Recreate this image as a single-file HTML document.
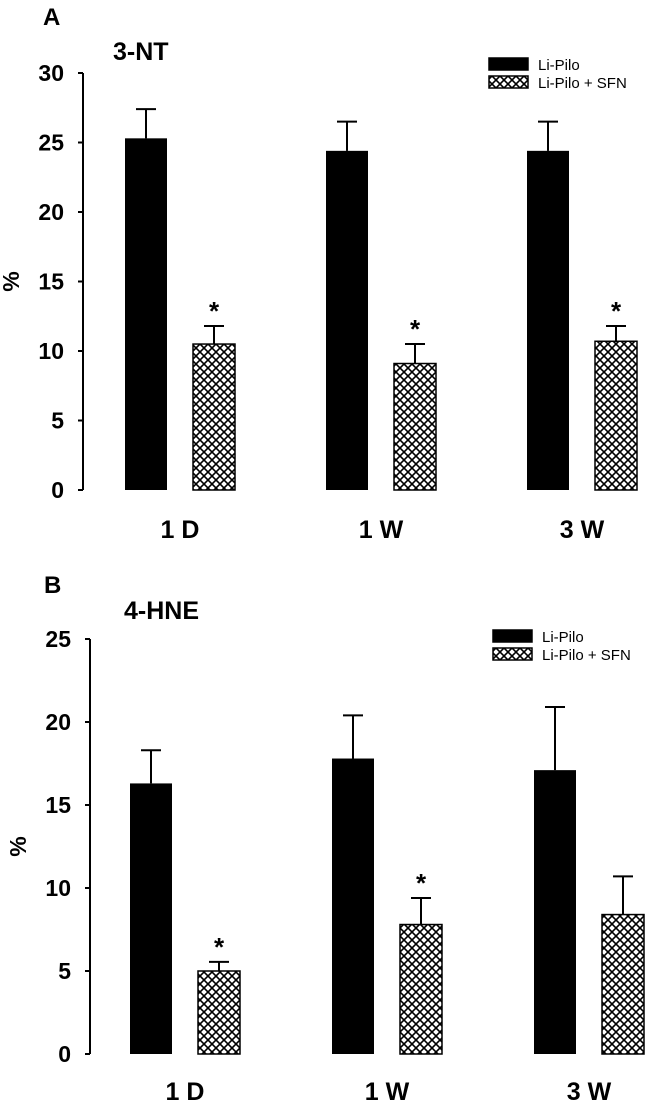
<!DOCTYPE html>
<html><head><meta charset="utf-8"><style>
body{margin:0;background:#fff;}
svg text{font-family:"Liberation Sans",Arial,sans-serif;font-weight:bold;fill:#000;}
</style></head><body>
<svg id="chart" width="645" height="1110" viewBox="0 0 645 1110" xmlns="http://www.w3.org/2000/svg">
<defs>
<pattern id="hatch" patternUnits="userSpaceOnUse" width="8" height="8">
<rect width="8" height="8" fill="#fff"/>
<path d="M0,0 L8,8 M8,0 L0,8" stroke="#000" stroke-width="1.6"/>
</pattern>
</defs>
</svg>
<script>
const categories = ["1 D","1 W","3 W"];
const seriesNames = ["Li-Pilo","Li-Pilo + SFN"];
const ntLiPilo = [25.3,24.4,24.4];
const ntLiPiloErr = [2.1,2.1,2.1];
const ntSfn = [10.5,9.1,10.7];
const ntSfnErr = [1.3,1.4,1.1];
const ntSig = [true,true,true];
const ntTicks = [0,5,10,15,20,25,30];
const hneLiPilo = [16.3,17.8,17.1];
const hneLiPiloErr = [2.0,2.6,3.8];
const hneSfn = [5.0,7.8,8.4];
const hneSfnErr = [0.55,1.6,2.3];
const hneSig = [true,true,false];
const hneTicks = [0,5,10,15,20,25];

const svg=document.getElementById('chart');
const NS="http://www.w3.org/2000/svg";
function mk(tag,attrs,parent){const e=document.createElementNS(NS,tag);for(const k in attrs)e.setAttribute(k,attrs[k]);(parent||svg).appendChild(e);return e;}

function panel(o){
  const g=mk('g',{});
  
  
  const ymax=o.ticks[o.ticks.length-1];
  const y=v=>o.y0-(v/ymax)*(o.y0-o.yTop);
  let t=mk('text',{x:o.lx,y:o.ly,'font-size':24},g);t.textContent=o.letter;
  
  t=mk('text',{x:o.tx,y:o.ty,'font-size':25},g);t.textContent=o.title;
  
  const ax=mk('line',{x1:o.ax,x2:o.ax,y1:y(ymax),y2:y(0),stroke:'#000','stroke-width':2},g);
  
  o.ticks.forEach(v=>{
    const tk=mk('line',{x1:o.ax-5,x2:o.ax,y1:y(v),y2:y(v),stroke:'#000','stroke-width':2},g);
    
    const tl=mk('text',{x:o.ax-19,y:y(v)+8,'font-size':23,'text-anchor':'end'},g);tl.textContent=v;
    
  });
  const yl=mk('text',{x:0,y:0,'font-size':23,'text-anchor':'middle',transform:`translate(${o.ax-64},${(y(ymax)+y(0))/2}) rotate(-90)`},g);yl.textContent='%';
  
  const bw=42;
  categories.forEach((c,i)=>{
    const bx=o.bx+i*o.gap;
    [[o.a,o.ae,'#000',false],[o.b,o.be,'url(#hatch)',true]].forEach((s,j)=>{
      const x=bx+j*68, v=s[0][i], e=s[1][i];
      const r=mk('rect',{x:x,y:y(v),width:bw,height:y(0)-y(v),fill:s[2],stroke:'#000','stroke-width':s[3]?1.5:0},g);
      
      const eb=mk('path',{d:`M${x+bw/2},${y(v)} V${y(v+e)} M${x+bw/2-10},${y(v+e)} H${x+bw/2+10}`,stroke:'#000','stroke-width':2,fill:'none'},g);
      
      if(j&&o.sig[i]){const st=mk('text',{x:x+bw/2,y:y(v+e)-6,'font-size':26,'text-anchor':'middle'},g);st.textContent='*';
        }
    });
    const cl=mk('text',{x:bx+(68+bw)/2,y:o.cy,'font-size':25,'text-anchor':'middle'},g);cl.textContent=c;
    
  });
  seriesNames.forEach((n,j)=>{
    const lr=mk('rect',{x:o.legx,y:o.legy+j*18,width:39,height:12,fill:j?'url(#hatch)':'#000',stroke:'#000','stroke-width':1.5},g);
    
    const lt=mk('text',{x:o.legx+49,y:o.legy+j*18+12,'font-size':15,style:'font-weight:normal'},g);lt.textContent=n;
    
  });
}
panel({name:'panel-3nt',letter:'A',lx:43,ly:25,title:'3-NT',tx:113,ty:60,ax:83,y0:490,yTop:73,ticks:ntTicks,
  a:ntLiPilo,ae:ntLiPiloErr,b:ntSfn,be:ntSfnErr,sig:ntSig,bx:125,gap:201,cy:538,legx:489,legy:58});
panel({name:'panel-4hne',letter:'B',lx:44,ly:593,title:'4-HNE',tx:124,ty:619,ax:90,y0:1054,yTop:639,ticks:hneTicks,
  a:hneLiPilo,ae:hneLiPiloErr,b:hneSfn,be:hneSfnErr,sig:hneSig,bx:130,gap:202,cy:1100,legx:493,legy:630});
</script>
</body></html>
